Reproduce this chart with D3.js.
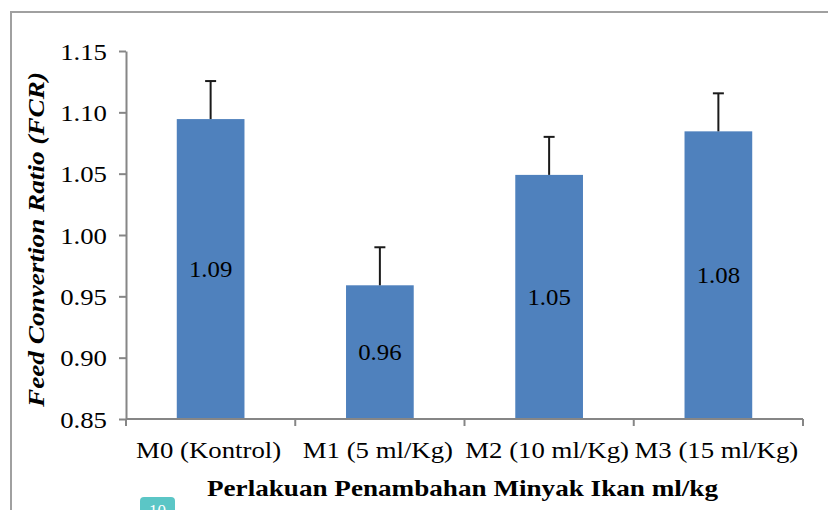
<!DOCTYPE html>
<html>
<head>
<meta charset="utf-8">
<script src="https://cdn.jsdelivr.net/npm/d3@7"></script>
<style>
html,body{margin:0;padding:0;background:#fff;}
svg{display:block;}
text{font-family:"Liberation Serif","Times New Roman",serif;fill:#000;}
</style>
</head>
<body>
<svg id="chart" width="828" height="510"></svg>
<script>
const categories = ["M0 (Kontrol)", "M1 (5 ml/Kg)", "M2 (10 ml/Kg)", "M3 (15 ml/Kg)"];
const values = [1.0945, 0.959, 1.049, 1.0845];
const errors = [0.031, 0.031, 0.031, 0.031];
const valueLabels = ["1.09", "0.96", "1.05", "1.08"];
const yTicks = [0.85, 0.90, 0.95, 1.00, 1.05, 1.10, 1.15];
const xTitle = "Perlakuan Penambahan Minyak Ikan ml/kg";
const yTitle = "Feed Convertion Ratio (FCR)";

const svg = d3.select("#chart");
const SX = 1.165;
const margin = {left:126, right:25, top:51, bottom:91};
const W = 828, H = 510;

// outer frame
svg.append("path").attr("d","M11,512 L11,12 L830,12").attr("fill","none")
  .attr("stroke","#a0a0a0").attr("stroke-width",2);

const x = d3.scaleBand().domain(categories).range([margin.left, W - margin.right]).paddingInner(0.6).paddingOuter(0.3);
const y = d3.scaleLinear().domain([0.85, 1.15]).range([H - margin.bottom, margin.top]);

// bars
svg.selectAll("rect.bar").data(values).enter().append("rect")
  .attr("class","bar")
  .attr("x",(d,i)=>x(categories[i]))
  .attr("width",x.bandwidth())
  .attr("y",d=>y(d))
  .attr("height",d=>y(0.85)-y(d))
  .attr("fill","#4F81BD");

// error bars (upper)
const cap = 11;
values.forEach((v,i)=>{
  const cx = x(categories[i]) + x.bandwidth()/2;
  svg.append("line").attr("x1",cx).attr("x2",cx).attr("y1",y(v)).attr("y2",y(v+errors[i]))
    .attr("stroke","#1a1a1a").attr("stroke-width",2);
  svg.append("line").attr("x1",cx-cap/2).attr("x2",cx+cap/2).attr("y1",y(v+errors[i])).attr("y2",y(v+errors[i]))
    .attr("stroke","#1a1a1a").attr("stroke-width",2);
  const my = (y(v)+y(0.85))/2;
  svg.append("text").attr("transform",`translate(${cx},${my+8}) scale(1.08,1)`)
    .attr("text-anchor","middle").attr("font-size",23).text(valueLabels[i]);
});

// y axis
const yAxis = d3.axisLeft(y).tickValues(yTicks).tickFormat(d3.format(".2f")).tickSize(7).tickSizeOuter(0).tickPadding(12);
const gy = svg.append("g").attr("transform",`translate(${margin.left},0)`).call(yAxis);
gy.select(".domain").attr("stroke","#868686").attr("stroke-width",2);
gy.selectAll(".tick line").attr("stroke","#868686").attr("stroke-width",2);
gy.selectAll(".tick text").attr("font-size",23).attr("font-family","Liberation Serif")
  .each(function(){ const t=d3.select(this); const xx=+t.attr("x"); t.attr("x",null).attr("transform",`translate(${xx},0) scale(${SX},1)`); })
  .attr("dy","0.35em");

// x axis
const xAxisScale = d3.scaleLinear().domain([0,4]).range([margin.left, W - margin.right]);
const gx = svg.append("g").attr("transform",`translate(0,${y(0.85)})`);
gx.append("line").attr("x1",margin.left).attr("x2",W-margin.right).attr("y1",0).attr("y2",0)
  .attr("stroke","#868686").attr("stroke-width",2);
[0,1,2,3,4].forEach(k=>{
  gx.append("line").attr("x1",xAxisScale(k)).attr("x2",xAxisScale(k)).attr("y1",0).attr("y2",7)
    .attr("stroke","#868686").attr("stroke-width",2);
});
categories.forEach((c,i)=>{
  const cx = x(c)+x.bandwidth()/2 - 2;
  svg.append("text").attr("transform",`translate(${cx},${y(0.85)+39}) scale(${SX},1)`)
    .attr("text-anchor","middle").attr("font-size",23).text(c);
});

// axis titles
svg.append("text").attr("x",207).attr("y",496).attr("textLength",511).attr("lengthAdjust","spacingAndGlyphs")
  .attr("font-size",23).attr("font-weight","bold").text(xTitle);
svg.append("text").attr("transform",`translate(44,407) rotate(-90)`)
  .attr("textLength",335).attr("lengthAdjust","spacingAndGlyphs")
  .attr("font-size",24).attr("font-weight","bold").attr("font-style","italic").text(yTitle);

// badge
svg.append("rect").attr("x",140).attr("y",497).attr("width",35).attr("height",24).attr("rx",4).attr("fill","#5BC6C6");
svg.append("text").attr("x",157.5).attr("y",516).attr("text-anchor","middle").attr("font-size",17)
  .attr("font-family","Liberation Sans").style("fill","#fff").text("10");
</script>
</body>
</html>
